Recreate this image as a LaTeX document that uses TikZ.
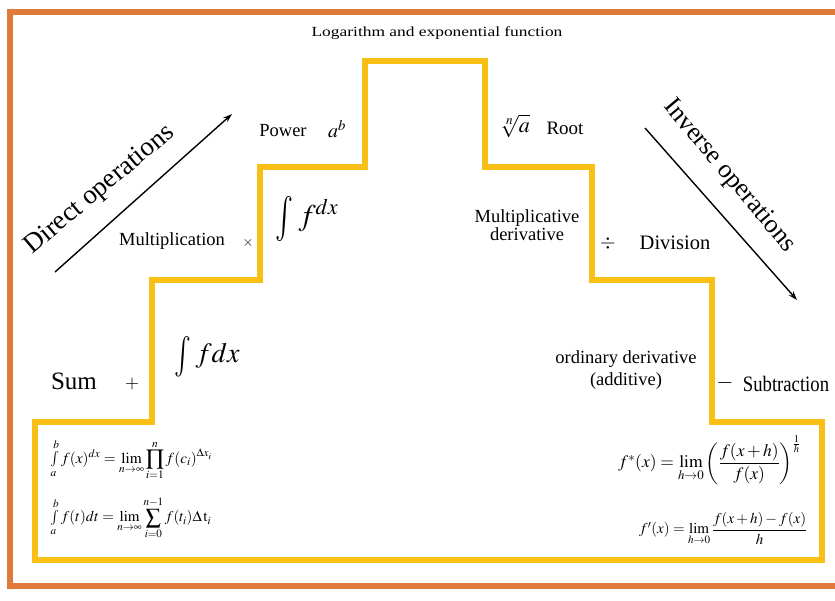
\documentclass[tikz,border=0pt]{standalone}
\usepackage{graphicx}
\usepackage{amsmath}
\usepackage{mathptmx}
\usepackage[no-math]{fontspec}
\setmainfont{Liberation Serif}
\usetikzlibrary{arrows.meta}
\definecolor{frameorange}{RGB}{224,122,58}
\definecolor{stairyellow}{RGB}{248,192,22}
\newcommand{\fs}[1]{\fontsize{#1}{#1}\selectfont}
\newcommand{\bigint}[1]{\raisebox{-0.15em}{\scalebox{1}[#1]{$\int$}}}
\begin{document}
\begin{tikzpicture}[x=1pt,y=-1pt,
  lbl/.style={inner sep=0pt, text=black},
  opsarrow/.style={-{Stealth[length=9pt,width=6pt]}, line width=1.4pt, black},
  formula/.style={inner sep=0pt, text=black}]
\useasboundingbox (0,0) rectangle (835,600);
\fill[white] (0,0) rectangle (835,600);
% frame
\draw[frameorange, line width=6pt] (10,12) rectangle (842,586);
% staircase
\draw[stairyellow, line width=6pt, line join=miter]
  (35,422) -- (152,422) -- (152,280) -- (260,280) -- (260,167) -- (365,167)
  -- (365,61) -- (485,61) -- (485,167) -- (592,167) -- (592,280) -- (712,280)
  -- (712,422) -- (822,422) -- (822,560) -- (35,560) -- cycle;
% top
\node[lbl, font=\fs{17.4}] (title) at (437,33) {\scalebox{1}[0.8]{Logarithm and exponential function}};
\node[lbl, font=\fs{18.5}] (power) at (283,131) {Power};
\node[lbl, font=\fs{20}] (powsym) at (337,129) {$a^{b}$};
\node[lbl, font=\fs{22}] (rootsym) at (515,126) {$\sqrt[n]{a}$};
\node[lbl, font=\fs{19}] (root) at (565,128) {Root};
% level 2
\node[lbl, font=\fs{18.5}] (mult) at (172,241) {Multiplication};
\node[lbl, font=\fs{14}] (times) at (248,243) {$\times$};
\node[lbl, font=\fs{30}] (mulint) at (307,219) {\bigint{1.5}\,$f^{dx}$};
\node[lbl, font=\fs{18.5}, align=center] (mulder) at (527,225) {Multiplicative\\[0pt]derivative};
\node[lbl, font=\fs{20}] (divsym) at (608,243) {$\div$};
\node[lbl, font=\fs{20.5}] (div) at (675,243) {Division};
% level 1
\node[lbl, font=\fs{25}] (sum) at (74,381) {Sum};
\node[lbl, font=\fs{18}] (plus) at (132,384) {$+$};
\node[lbl, font=\fs{28}] (addint) at (207,357) {\bigint{1.45}\,$fdx$};
\node[lbl, font=\fs{18.5}, align=center] (ordder) at (626,370) {ordinary derivative\\[3pt](additive)};
\node[lbl, font=\fs{22}] (minus) at (725,383) {$-$};
\node[lbl, font=\fs{22}] (sub) at (786,384) {\scalebox{0.85}[1]{Subtraction}};
% direction arrows
\coordinate (da) at (55,272);
\coordinate (db) at (232,114);
\draw[opsarrow] (da) -- (db);
\node[lbl, font=\fs{27}, rotate=40] (direct) at (100,190) {Direct operations};
\coordinate (ia) at (645,128);
\coordinate (ib) at (797,300);
\draw[opsarrow] (ia) -- (ib);
\node[lbl, font=\fs{26}, rotate=-50] (inverse) at (729,176) {Inverse operations};
% formulas
\node[formula, font=\fs{15.3}, anchor=west] (fl1) at (50,460) {$\int\limits_a^b f(x)^{dx} = \lim\limits_{n\to\infty}\displaystyle\prod_{i=1}^{n} f(c_i)^{\Delta x_i}$};
\node[formula, font=\fs{15}, anchor=west] (fl2) at (50,518) {$\int\limits_a^b f(t)dt = \lim\limits_{n\to\infty}\displaystyle\sum_{i=0}^{n-1} f(t_i)\Delta\,\mathrm{t}_i$};
\node[formula, font=\fs{17.5}, anchor=west] (fr1) at (618,460) {$f^{*}(x) = \lim\limits_{h\to 0}\left(\dfrac{f(x+h)}{f(x)}\right)^{\frac{1}{h}}$};
\node[formula, font=\fs{15}, anchor=west] (fr2) at (639,529) {$f'(x) = \lim\limits_{h\to 0}\dfrac{f(x+h)-f(x)}{h}$};
\end{tikzpicture}
\end{document}
